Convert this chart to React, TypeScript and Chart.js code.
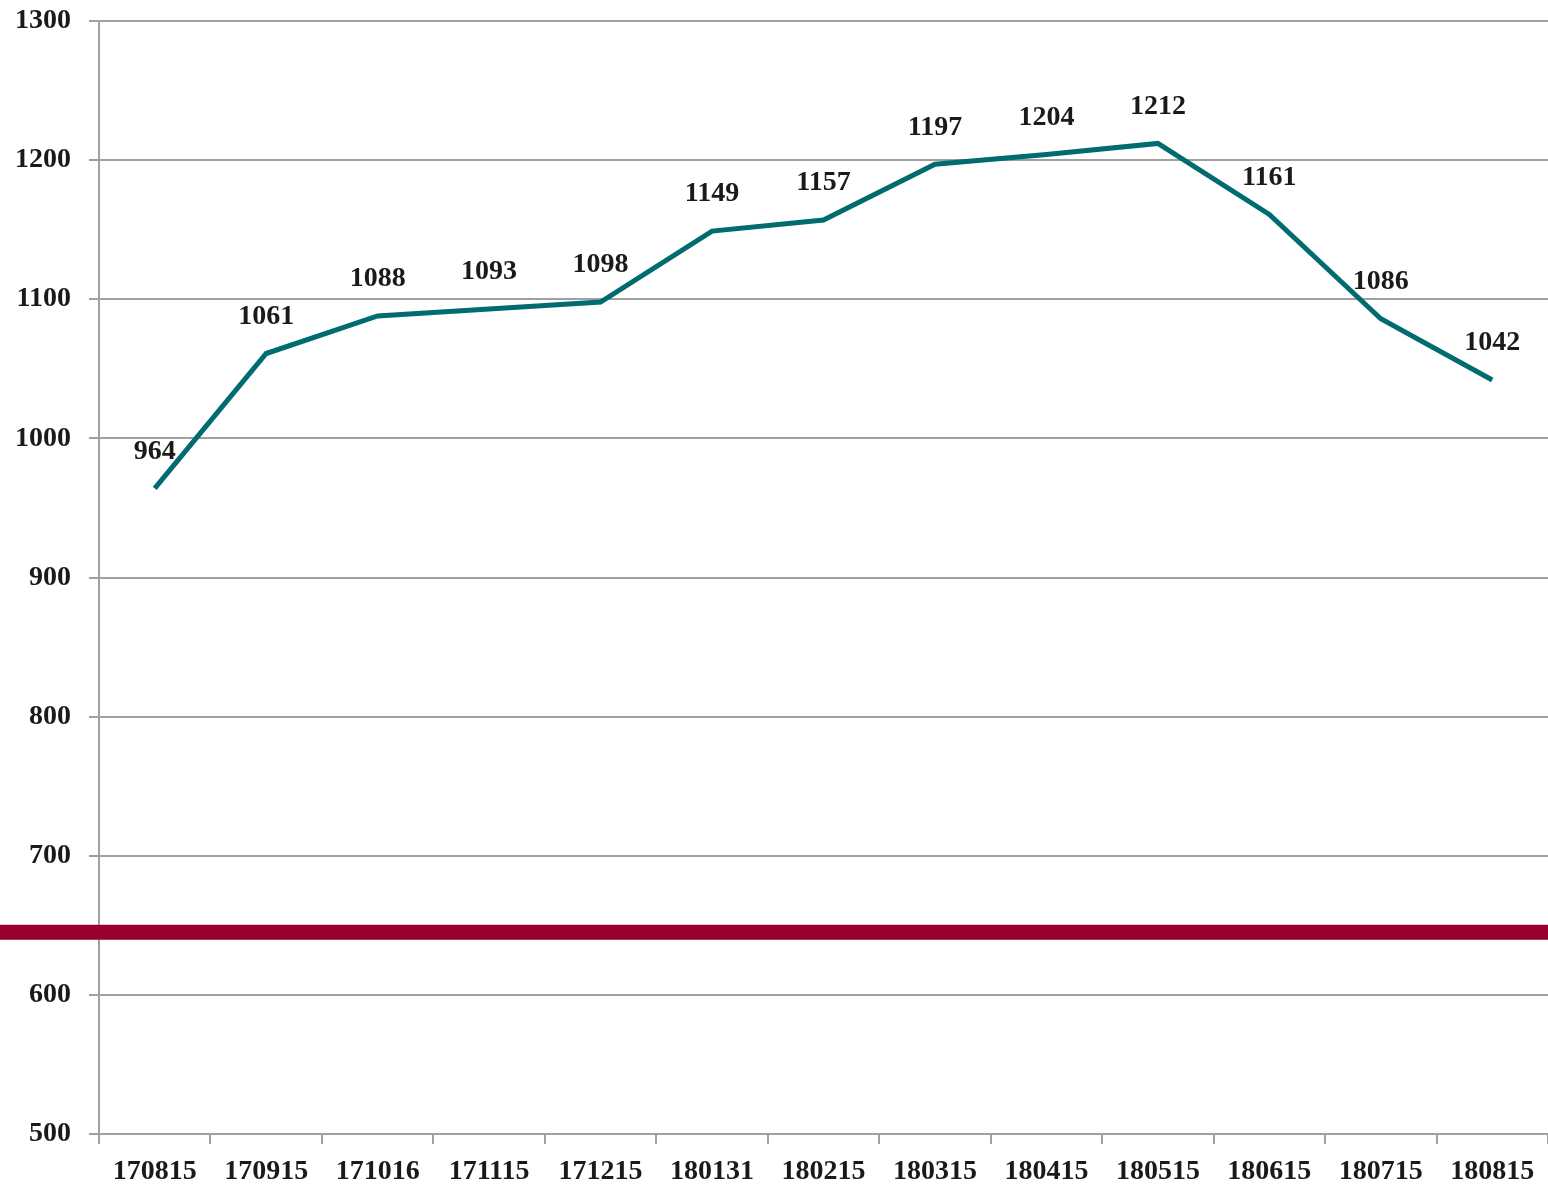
import React, { useEffect, useRef } from "react";
import { Chart, registerables } from "chart.js";

Chart.register(...registerables);

const categories = ["170815", "170915", "171016", "171115", "171215", "180131", "180215", "180315", "180415", "180515", "180615", "180715", "180815"];
const values = [964, 1061, 1088, 1093, 1098, 1149, 1157, 1197, 1204, 1212, 1161, 1086, 1042];
const redLineValue = 645;
const yMin = 500;
const yMax = 1300;
const yStep = 100;

const FONT = "'Liberation Serif', 'Times New Roman', serif";

export default function App() {
  const ref = useRef<HTMLCanvasElement>(null);
  useEffect(() => {
    document.body.style.margin = "0";
    const canvas = ref.current!;
    const valueLabels = {
      id: "valueLabels",
      afterDatasetsDraw(chart: any) {
        const ctx = chart.ctx;
        const meta = chart.getDatasetMeta(0);
        ctx.save();
        ctx.font = `bold 28px ${FONT}`;
        ctx.fillStyle = "#1a1a1a";
        ctx.textAlign = "center";
        ctx.textBaseline = "middle";
        meta.data.forEach((pt: any, i: number) => {
          ctx.fillText(String(values[i]), pt.x, pt.y - 37);
        });
        ctx.restore();
      },
    };
    const redLine = {
      id: "redLine",
      afterDraw(chart: any) {
        const ctx = chart.ctx;
        const y = chart.scales.y.getPixelForValue(redLineValue);
        ctx.save();
        ctx.fillStyle = "#990030";
        ctx.fillRect(0, y - 7.5, chart.width, 15);
        ctx.restore();
      },
    };
    const chart = new Chart(canvas, {
      type: "line",
      data: {
        labels: categories,
        datasets: [
          {
            data: values,
            borderColor: "#006b70",
            borderWidth: 5,
            pointRadius: 0,
            tension: 0,
            fill: false,
          },
        ],
      },
      options: {
        animation: false,
        responsive: false,
        maintainAspectRatio: false,
        layout: { padding: { top: 21, right: 0, left: 0, bottom: 0 } },
        plugins: { legend: { display: false }, tooltip: { enabled: false } },
        scales: {
          x: {
            offset: true,
            grid: {
              offset: true,
              drawOnChartArea: false,
              drawTicks: true,
              tickLength: 10,
              color: "#a0a0a0",
              lineWidth: 2,
            },
            border: { color: "#a0a0a0", width: 2 },
            ticks: {
              color: "#1a1a1a",
              font: { family: FONT, size: 28, weight: "bold" },
              padding: 11,
              maxRotation: 0,
              autoSkip: false,
            },
            afterFit(scale: any) {
              scale.height = 51;
              scale.paddingLeft = 0;
              scale.paddingRight = 0;
            },
          },
          y: {
            min: yMin,
            max: yMax,
            grid: {
              color: "#a0a0a0",
              lineWidth: 2,
              tickLength: 10,
            },
            border: { color: "#a0a0a0", width: 2 },
            ticks: {
              stepSize: yStep,
              color: "#1a1a1a",
              font: { family: FONT, size: 28, weight: "bold" },
              padding: 18,
              callback: (v: any) => String(v),
            },
            afterFit(scale: any) {
              scale.width = 99;
              scale.paddingTop = 0;
              scale.paddingBottom = 0;
            },
          },
        },
      },
      plugins: [valueLabels, redLine],
    });
    return () => chart.destroy();
  }, []);
  return (
    <div style={{ position: "absolute", left: 0, top: 0, width: 1548, height: 1185, background: "#fff" }}>
      <canvas ref={ref} width={1548} height={1185} style={{ width: 1548, height: 1185 }} />
    </div>
  );
}
